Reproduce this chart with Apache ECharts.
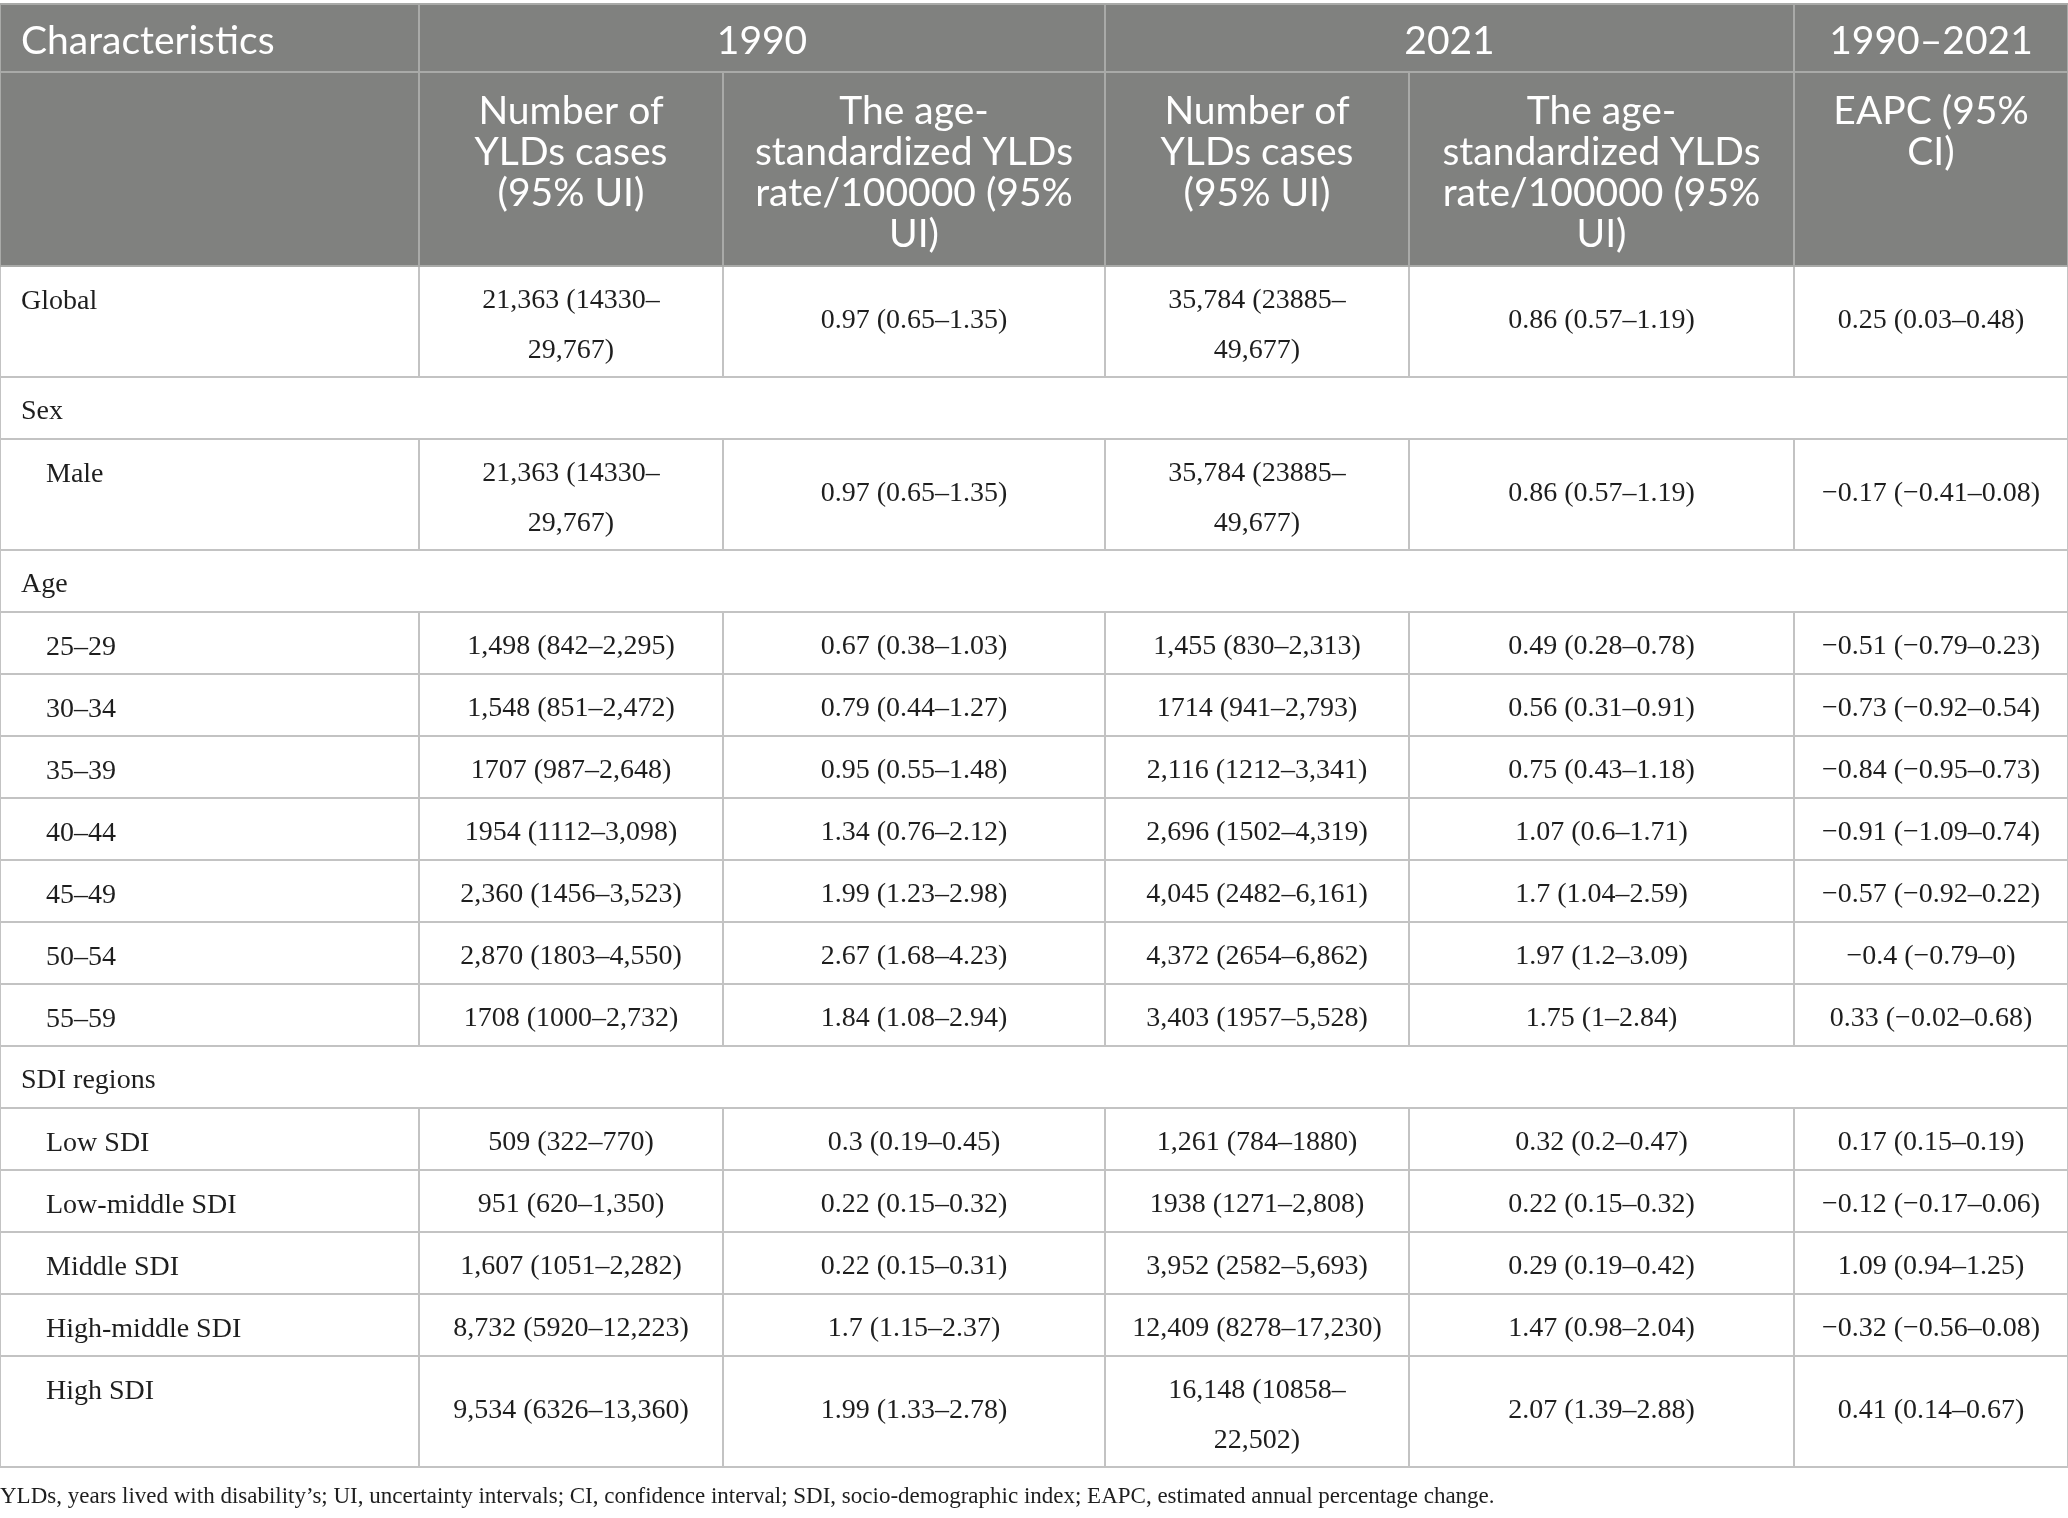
<!DOCTYPE html>
<html>
<head>
<meta charset="utf-8">
<title>YLDs table</title>
<script src="https://cdn.jsdelivr.net/npm/echarts@6.0.0/dist/echarts.min.js"></script>
<style>
  html, body { margin: 0; padding: 0; background: #fff; }
  #main { width: 2068px; height: 1518px; }
</style>
</head>
<body>
<div id="main"></div>
<script>
// table data
var headTop = ['Characteristics', '1990', '2021', '1990–2021'];
var headSub = ['', 'Number of\nYLDs cases\n(95% UI)', 'The age-\nstandardized YLDs\nrate/100000 (95%\nUI)',
    'Number of\nYLDs cases\n(95% UI)', 'The age-\nstandardized YLDs\nrate/100000 (95%\nUI)', 'EAPC (95%\nCI)'];

var rowLabels = ['Global', 'Sex', 'Male', 'Age', '25–29', '30–34', '35–39', '40–44', '45–49', '50–54', '55–59',
    'SDI regions', 'Low SDI', 'Low-middle SDI', 'Middle SDI', 'High-middle SDI', 'High SDI'];
// 0 = top level, 1 = indented, 's' = section heading
var rowLevel = [0, 's', 1, 's', 1, 1, 1, 1, 1, 1, 1, 's', 1, 1, 1, 1, 1];

var cases1990 = ['21,363 (14330–\n29,767)', null, '21,363 (14330–\n29,767)', null,
    '1,498 (842–2,295)', '1,548 (851–2,472)', '1707 (987–2,648)', '1954 (1112–3,098)', '2,360 (1456–3,523)',
    '2,870 (1803–4,550)', '1708 (1000–2,732)', null,
    '509 (322–770)', '951 (620–1,350)', '1,607 (1051–2,282)', '8,732 (5920–12,223)', '9,534 (6326–13,360)'];
var rate1990 = ['0.97 (0.65–1.35)', null, '0.97 (0.65–1.35)', null,
    '0.67 (0.38–1.03)', '0.79 (0.44–1.27)', '0.95 (0.55–1.48)', '1.34 (0.76–2.12)', '1.99 (1.23–2.98)',
    '2.67 (1.68–4.23)', '1.84 (1.08–2.94)', null,
    '0.3 (0.19–0.45)', '0.22 (0.15–0.32)', '0.22 (0.15–0.31)', '1.7 (1.15–2.37)', '1.99 (1.33–2.78)'];
var cases2021 = ['35,784 (23885–\n49,677)', null, '35,784 (23885–\n49,677)', null,
    '1,455 (830–2,313)', '1714 (941–2,793)', '2,116 (1212–3,341)', '2,696 (1502–4,319)', '4,045 (2482–6,161)',
    '4,372 (2654–6,862)', '3,403 (1957–5,528)', null,
    '1,261 (784–1880)', '1938 (1271–2,808)', '3,952 (2582–5,693)', '12,409 (8278–17,230)', '16,148 (10858–\n22,502)'];
var rate2021 = ['0.86 (0.57–1.19)', null, '0.86 (0.57–1.19)', null,
    '0.49 (0.28–0.78)', '0.56 (0.31–0.91)', '0.75 (0.43–1.18)', '1.07 (0.6–1.71)', '1.7 (1.04–2.59)',
    '1.97 (1.2–3.09)', '1.75 (1–2.84)', null,
    '0.32 (0.2–0.47)', '0.22 (0.15–0.32)', '0.29 (0.19–0.42)', '1.47 (0.98–2.04)', '2.07 (1.39–2.88)'];
var eapc = ['0.25 (0.03–0.48)', null, '−0.17 (−0.41–0.08)', null,
    '−0.51 (−0.79–0.23)', '−0.73 (−0.92–0.54)', '−0.84 (−0.95–0.73)', '−0.91 (−1.09–0.74)', '−0.57 (−0.92–0.22)',
    '−0.4 (−0.79–0)', '0.33 (−0.02–0.68)', null,
    '0.17 (0.15–0.19)', '−0.12 (−0.17–0.06)', '1.09 (0.94–1.25)', '−0.32 (−0.56–0.08)', '0.41 (0.14–0.67)'];

var footnote = 'YLDs, years lived with disability’s; UI, uncertainty intervals; CI, confidence interval; SDI, socio-demographic index; EAPC, estimated annual percentage change.';

var colWidths = [419, 304, 382, 304, 385, 274];

var headBg = '#80817f';
var headLine = '#a9aaa8';
var bodyLine = '#c3c3c3';
var serif = 'Liberation Serif';
var sans = 'Lato';

var myChart = echarts.init(document.getElementById('main'));

var xData = colWidths.map(function (w, i) {
    return { value: 'c' + i, size: w };
});
var yData = [{ value: 'h0', size: 68 }, { value: 'h1', size: 194 }];
var tallRow = rowLabels.map(function (name, i) {
    return String(cases1990[i]).indexOf('\n') >= 0 || String(cases2021[i]).indexOf('\n') >= 0;
});
rowLabels.forEach(function (name, i) {
    yData.push({ value: 'r' + i, size: tallRow[i] ? 111 : 62 });
});

var headItem = { color: headBg, borderColor: headLine, borderWidth: 2 };
var headLabel = function (extra) {
    return echarts.util.extend({ color: '#fff', fontFamily: sans, fontSize: 39, lineHeight: 41,
        overflow: 'none', verticalAlign: 'top' }, extra || {});
};
var cells = [];

// header row 1
cells.push({ coord: ['c0', 'h0'], value: headTop[0], itemStyle: headItem,
    label: headLabel({ align: 'left', position: 'insideTopLeft', padding: [17, 0, 0, 21] }) });
cells.push({ coord: [['c1', 'c2'], 'h0'], mergeCells: true, value: headTop[1], itemStyle: headItem,
    label: headLabel({ position: 'insideTop', padding: [17, 0, 0, 0] }) });
cells.push({ coord: [['c3', 'c4'], 'h0'], mergeCells: true, value: headTop[2], itemStyle: headItem,
    label: headLabel({ position: 'insideTop', padding: [17, 0, 0, 0] }) });
cells.push({ coord: ['c5', 'h0'], value: headTop[3], itemStyle: headItem,
    label: headLabel({ position: 'insideTop', padding: [17, 0, 0, 0] }) });

// header row 2
headSub.forEach(function (t, i) {
    cells.push({ coord: ['c' + i, 'h1'], value: t, itemStyle: headItem,
        label: headLabel({ position: 'insideTop', padding: [19, 0, 0, 0] }) });
});

// body rows
rowLabels.forEach(function (name, i) {
    var r = 'r' + i;
    if (rowLevel[i] === 's') {
        cells.push({ coord: [['c0', 'c5'], r], mergeCells: true, value: name,
            label: { align: 'left', verticalAlign: 'top', position: 'insideTopLeft',
                lineHeight: 36, padding: [17, 0, 0, 21] } });
        return;
    }
    cells.push({ coord: ['c0', r], value: name,
        label: { align: 'left', verticalAlign: 'top', position: 'insideTopLeft',
            padding: [11, 0, 0, rowLevel[i] === 1 ? 46 : 21] } });
    [cases1990, rate1990, cases2021, rate2021, eapc].forEach(function (arr, j) {
        var twoLines = arr[i].indexOf('\n') >= 0;
        var top = twoLines ? 10 : (tallRow[i] ? 37 : 17);
        cells.push({ coord: ['c' + (j + 1), r], value: arr[i],
            label: { verticalAlign: 'top', position: 'insideTop',
                lineHeight: twoLines ? 50 : 36, padding: [top, 0, 0, 0] } });
    });
});

var option = {
    backgroundColor: '#fff',
    title: {
        text: footnote,
        left: 0,
        top: 1485,
        padding: 0,
        textStyle: { fontFamily: serif, fontSize: 23, fontWeight: 'normal', color: '#1e1e1e' }
    },
    matrix: {
        left: 0,
        top: 4,
        width: 2068,
        height: 1463,
        x: { show: false, data: xData },
        y: { show: false, data: yData },
        backgroundStyle: { borderWidth: 0, color: '#fff' },
        body: {
            data: cells,
            itemStyle: { color: '#fff', borderColor: bodyLine, borderWidth: 2 },
            label: { color: '#1e1e1e', fontFamily: serif, fontSize: 28, lineHeight: 50, overflow: 'none' }
        }
    }
};
myChart.setOption(option);
</script>
</body>
</html>
